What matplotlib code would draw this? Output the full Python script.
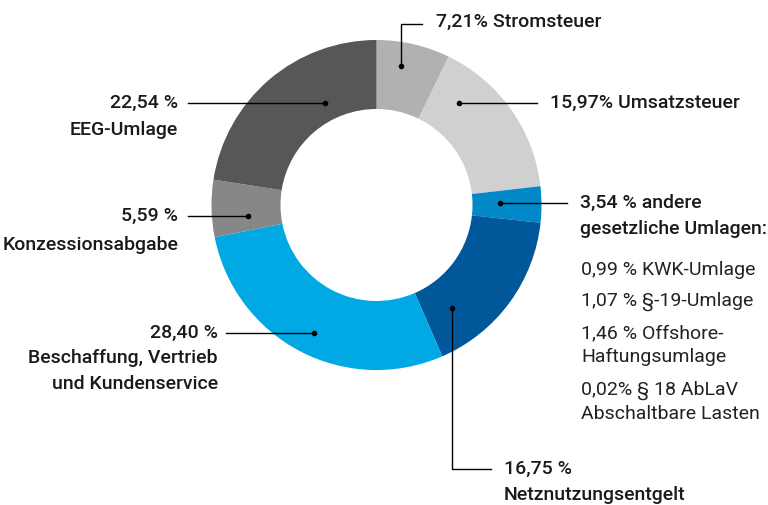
import matplotlib.pyplot as plt

# Anteile am Strompreis (Prozent), im Uhrzeigersinn ab 12 Uhr
labels = ['Stromsteuer', 'Umsatzsteuer', 'andere gesetzliche Umlagen', 'Netznutzungsentgelt',
          'Beschaffung, Vertrieb und Kundenservice', 'Konzessionsabgabe', 'EEG-Umlage']
werte = [7.21, 15.97, 3.54, 16.75, 28.40, 5.59, 22.54]
farben = ['#b1b1b1', '#d0d0d0', '#0088c8', '#00589b', '#00a8e4', '#878787', '#575756']

umlagen = ['0,99 % KWK-Umlage', '1,07 % §-19-Umlage', '1,46 % Offshore-\nHaftungsumlage',
           '0,02% § 18 AbLaV\nAbschaltbare Lasten']

plt.rcParams['font.family'] = ['Roboto', 'DejaVu Sans']

fig = plt.figure(figsize=(7.68, 5.06), dpi=100)
ax = fig.add_axes([0, 0, 1, 1])

# y-Achse zeigt nach unten -> Pixelkoordinaten, counterclock ergibt optisch Uhrzeigersinn
ax.pie(werte, colors=farben, startangle=-90, counterclock=True, radius=165,
       center=(376.5, 206), wedgeprops=dict(width=69, linewidth=0), frame=True)
ax.set_xlim(0, 768)
ax.set_ylim(506, 0)
ax.set_aspect('equal')
ax.axis('off')

fs = 14
kw = dict(fontsize=fs, fontweight='medium', color='#1a1a1a', va='center')

def punkt(x, y):
    ax.plot(x, y, 'o', color='black', ms=3)

def linie(xs, ys):
    ax.plot(xs, ys, color='black', lw=1)

# Stromsteuer
linie([401, 401, 422], [67, 25, 25]); punkt(401, 67)
ax.text(436, 22, '7,21% Stromsteuer', ha='left', **kw)

# Umsatzsteuer
linie([459, 537], [104, 104]); punkt(459, 104)
ax.text(550, 103, '15,97% Umsatzsteuer', ha='left', **kw)

# andere Umlagen
linie([500, 567], [204, 204]); punkt(500, 204)
ax.text(580, 203, '3,54 % andere', ha='left', **kw)
ax.text(580, 229, 'gesetzliche Umlagen:', ha='left', **kw)
ys = [270, 301, 345, 402]
for t, y in zip(umlagen, ys):
    ax.text(581, y, t, ha='left', va='center', fontsize=14, fontweight='normal',
            color='#222222', linespacing=1.35)

# Netznutzungsentgelt
linie([452, 452, 491], [309, 470, 470]); punkt(452, 309)
ax.text(504, 469, '16,75 %', ha='left', **kw)
ax.text(504, 495, 'Netznutzungsentgelt', ha='left', **kw)

# Beschaffung
linie([314, 226], [334, 334]); punkt(314, 334)
ax.text(218, 333, '28,40 %', ha='right', **kw)
ax.text(218, 358, 'Beschaffung, Vertrieb', ha='right', **kw)
ax.text(218, 384, 'und Kundenservice', ha='right', **kw)

# Konzessionsabgabe
linie([248, 188], [217, 217]); punkt(248, 217)
ax.text(178, 216, '5,59 %', ha='right', **kw)
ax.text(178, 245, 'Konzessionsabgabe', ha='right', **kw)

# EEG-Umlage
linie([325, 188], [104, 104]); punkt(325, 104)
ax.text(178, 103, '22,54 %', ha='right', **kw)
ax.text(178, 130, 'EEG-Umlage', ha='right', **kw)

fig.savefig('out.png', dpi=100)
